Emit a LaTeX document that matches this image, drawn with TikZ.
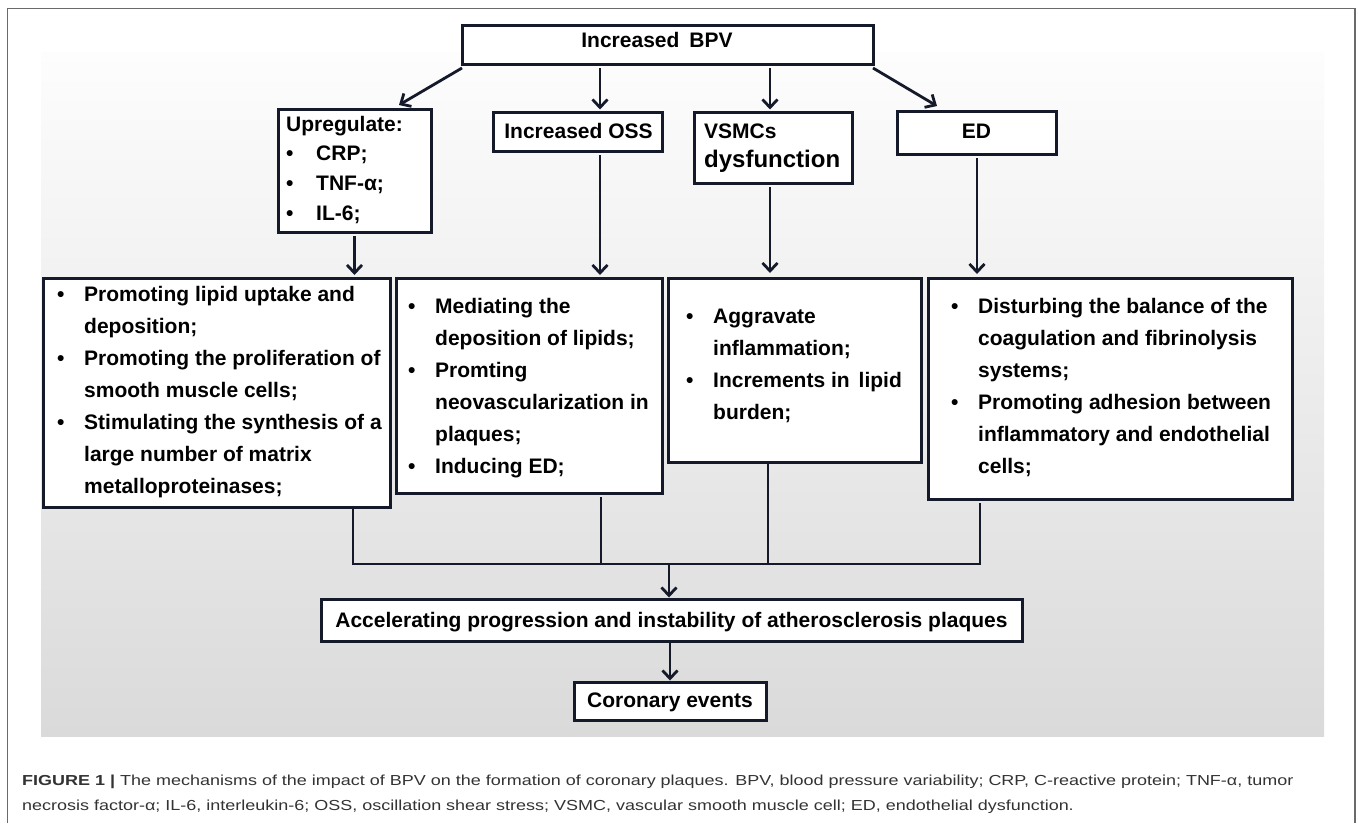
\documentclass[tikz,border=0pt]{standalone}
\usepackage{fontspec}
\setmainfont{Liberation Sans}
\newfontfamily\capfont[FakeStretch=1.24]{Liberation Sans}
\usepackage{array}
\usetikzlibrary{arrows.meta,calc}
\definecolor{ink}{HTML}{151A2A}
\definecolor{frameg}{HTML}{6A6A6A}
\definecolor{capc}{HTML}{333333}
\definecolor{paneltop}{HTML}{FDFDFD}
\definecolor{panelbot}{HTML}{DADADA}
\begin{document}
\begin{tikzpicture}[x=1pt,y=-1pt,
  box/.style={draw=ink,line width=3pt,fill=white,inner sep=0pt,outer sep=0pt,anchor=north west},
  lbl/.style={inner sep=0pt,font=\bfseries\fontsize{21}{25}\selectfont,text=black},
  lst/.style={inner sep=0pt,anchor=north west,font=\bfseries\fontsize{21}{32}\selectfont,text=black},
  arr/.style={draw=ink,line width=2.8pt,-{Straight Barb[length=8pt,width=15pt]}},
  ln/.style={draw=ink,line width=2.8pt},
  captext/.style={anchor=base west,inner sep=0pt,font=\capfont\fontsize{14.5}{18}\selectfont,text=capc}]
\useasboundingbox (0,0) rectangle (1358,823);
\fill[white] (0,0) rectangle (1358,823);
\shade[top color=paneltop,bottom color=panelbot] (41,52) rectangle (1324,736);
\draw[frameg,line width=1.5pt] (7.5,823) -- (7.5,8.5) -- (1355,8.5) -- (1355,823);

% boxes
\node[box,minimum width=411pt,minimum height=39pt] (top) at (462,25) {};
\node[box,minimum width=153pt,minimum height=123pt] (up) at (278,109) {};
\node[box,minimum width=169pt,minimum height=39pt] (oss) at (493,112) {};
\node[box,minimum width=158pt,minimum height=71pt] (vsm) at (694,112) {};
\node[box,minimum width=159pt,minimum height=43pt] (ed) at (897,111) {};
\node[box,minimum width=347pt,minimum height=229pt] (b1) at (43,278) {};
\node[box,minimum width=266pt,minimum height=215pt] (b2) at (396,278) {};
\node[box,minimum width=253pt,minimum height=184pt] (b3) at (668,278) {};
\node[box,minimum width=364pt,minimum height=221pt] (b4) at (928,278) {};
\node[box,minimum width=701pt,minimum height=42pt] (acc) at (321,599) {};
\node[box,minimum width=192pt,minimum height=38pt] (cor) at (574,682) {};

% texts
\node[lbl,anchor=base] (ttop) at (657,47) {Increased\hspace{10pt}BPV};
\node[lbl,anchor=base] (toss) at (578.5,138) {Increased OSS};
\node[lbl,anchor=base west] (tv1) at (704,138) {VSMCs};
\node[lbl,anchor=base west,font=\bfseries\fontsize{24}{28}\selectfont] (tv2) at (704,167) {dysfunction};
\node[lbl,anchor=base] (ted) at (976.5,138) {ED};
\node[lst,font=\bfseries\fontsize{21}{29.7}\selectfont] (tup) at (286,110.2) {\begin{tabular}{@{}w{l}{30pt}@{}l@{}}
\multicolumn{2}{@{}l@{}}{Upregulate:}\\
\textbullet & CRP;\\
\textbullet & TNF-α;\\
\textbullet & IL-6;
\end{tabular}};
\node[lst] (tb1) at (57,278.6) {\begin{tabular}{@{}w{l}{27pt}@{}l@{}}
\textbullet & Promoting lipid uptake and\\
 & deposition;\\
\textbullet & Promoting the proliferation of\\
 & smooth muscle cells;\\
\textbullet & Stimulating the synthesis of a\\
 & large number of matrix\\
 & metalloproteinases;
\end{tabular}};
\node[lst] (tb2) at (408,290.6) {\begin{tabular}{@{}w{l}{27pt}@{}l@{}}
\textbullet & Mediating the\\
 & deposition of lipids;\\
\textbullet & Promting\\
 & neovascularization in\\
 & plaques;\\
\textbullet & Inducing ED;
\end{tabular}};
\node[lst] (tb3) at (686,300.6) {\begin{tabular}{@{}w{l}{27pt}@{}l@{}}
\textbullet & Aggravate\\
 & inflammation;\\
\textbullet & Increments in\hspace{9pt}lipid\\
 & burden;
\end{tabular}};
\node[lst] (tb4) at (951,290.6) {\begin{tabular}{@{}w{l}{27pt}@{}l@{}}
\textbullet & Disturbing the balance of the\\
 & coagulation and fibrinolysis\\
 & systems;\\
\textbullet & Promoting adhesion between\\
 & inflammatory and endothelial\\
 & cells;
\end{tabular}};
\node[lbl,anchor=base] (tacc) at (671.5,627.3) {Accelerating progression and instability of atherosclerosis plaques};
\node[lbl,anchor=base] (tcor) at (670,707.3) {Coronary events};

% connectors
\draw[arr] ($(top.south west)+(0,4)$) -- ($(up.north east)+(-32,-4)$);
\draw[arr] ($(oss.north |- top.south)+(22.5,4)$) -- ($(oss.north)+(22.5,-2.5)$);
\draw[arr] ($(vsm.north |- top.south)+(-3,4)$) -- ($(vsm.north)+(-3,-2.5)$);
\draw[arr] ($(top.south east)+(0,4)$) -- ($(ed.north west)+(40,-5)$);
\draw[arr] ($(up.south)+(0,4)$) -- ($(b1.north -| up.south)+(0,-3)$);
\draw[arr] ($(oss.south)+(22.5,4)$) -- ($(b2.north -| oss.south)+(22.5,-3)$);
\draw[arr] ($(vsm.south)+(-3,4)$) -- ($(b3.north -| vsm.south)+(-3,-5)$);
\draw[arr] ($(ed.south)+(0.5,4)$) -- ($(b4.north -| ed.south)+(0.5,-4)$);

\coordinate (j1) at (353,564);
\coordinate (j2) at (601,564);
\coordinate (j3) at (768,564);
\coordinate (j4) at (980,564);
\coordinate (jm) at (669,564);
\draw[ln] ($(b1.south -| j1)+(0,1.5)$) -- (j1) -- (j4) -- ($(b4.south -| j4)+(0,4)$);
\draw[ln] ($(b2.south -| j2)+(0,4)$) -- (j2);
\draw[ln] ($(b3.south -| j3)+(0,1.5)$) -- (j3);
\draw[arr] (jm) -- ($(acc.north -| jm)+(0,-1.5)$);
\draw[arr] ($(acc.south -| cor.north)+(0,2)$) -- ($(cor.north)+(0,-1.5)$);

% caption
\node[captext] (cap1) at (22,785) {\textbf{FIGURE 1 |} The mechanisms of the impact of BPV on the formation of coronary plaques. BPV, blood pressure variability; CRP, C-reactive protein; TNF-α, tumor};
\node[captext] (cap2) at (22,810) {necrosis factor-α; IL-6, interleukin-6; OSS, oscillation shear stress; VSMC, vascular smooth muscle cell; ED, endothelial dysfunction.};
\end{tikzpicture}
\end{document}
